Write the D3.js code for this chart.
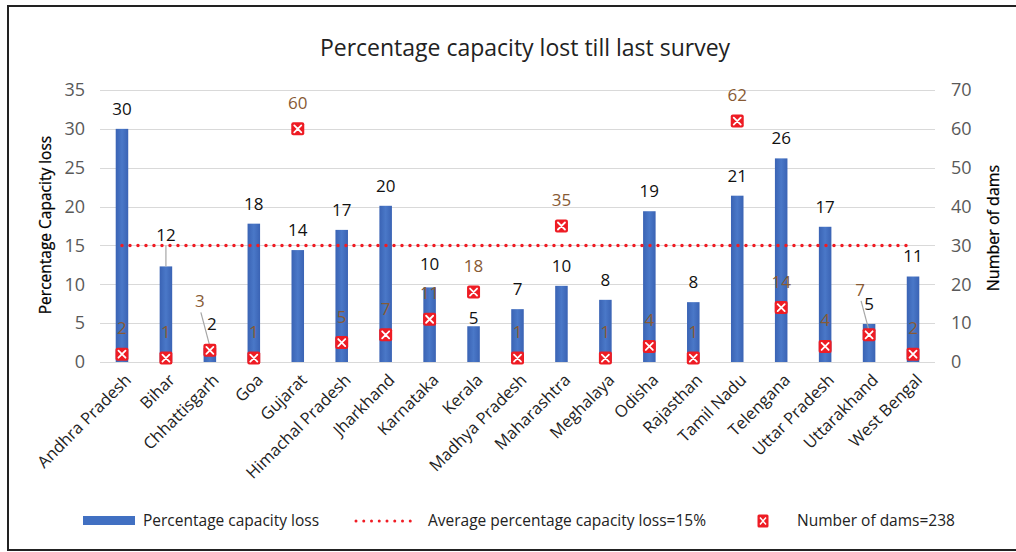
<!DOCTYPE html>
<html>
<head>
<meta charset="utf-8">
<title>Percentage capacity lost till last survey</title>
<script src="https://d3js.org/d3.v7.min.js"></script>
<style>
    body { margin: 0; background: #fff; }
    svg { display: block; font-family: "Open Sans", Lato, sans-serif; }
</style>
</head>
<body>
<svg width="1016" height="552"></svg>
<script>
    // values
    var states = ["Andhra Pradesh", "Bihar", "Chhattisgarh", "Goa", "Gujarat", "Himachal Pradesh",
        "Jharkhand", "Karnataka", "Kerala", "Madhya Pradesh", "Maharashtra", "Meghalaya", "Odisha",
        "Rajasthan", "Tamil Nadu", "Telengana", "Uttar Pradesh", "Uttarakhand", "West Bengal"];
    var capacityLoss = [30.0, 12.3, 1.8, 17.8, 14.4, 17.0, 20.1, 9.6, 4.6, 6.8, 9.8, 8.0, 19.4,
        7.7, 21.4, 26.2, 17.4, 4.9, 11.0];
    var dams = [2, 1, 3, 1, 60, 5, 7, 11, 18, 1, 35, 1, 4, 1, 62, 14, 4, 7, 2];
    var averageLoss = 15;
    var leftTicks = [0, 5, 10, 15, 20, 25, 30, 35];
    var rightTicks = [0, 10, 20, 30, 40, 50, 60, 70];

    var svg = d3.select("svg");

    var x = d3.scaleBand().domain(states).range([100, 935]).paddingInner(0.715).paddingOuter(0.3575);
    var yL = d3.scaleLinear().domain([0, 35]).range([362, 90]);
    var yR = d3.scaleLinear().domain([0, 70]).range([362, 90]);
    var cx = function (s) { return x(s) + x.bandwidth() / 2; };

    // label nudges where the original had moved labels by hand
    var barLabelShift = { "Bihar": -31, "Chhattisgarh": -24, "Karnataka": -23, "Kerala": -8 };
    var damLabelShift = { "Chhattisgarh": [-10, -49], "Uttarakhand": [-9, -45] };

    // frame
    svg.append("path").attr("d", "M8,551V6H1016").attr("fill", "none").attr("stroke", "#222").attr("stroke-width", 2);
    svg.append("line").attr("x1", 8).attr("x2", 1016).attr("y1", 550).attr("y2", 550).attr("stroke", "#222").attr("stroke-width", 2);

    svg.append("text").attr("x", 525).attr("y", 48).attr("dy", "0.35em").attr("text-anchor", "middle")
        .style("font-size", "23px").attr("fill", "#222").text("Percentage capacity lost till last survey");

    // grid
    svg.append("g").selectAll("line").data(leftTicks).enter().append("line")
        .attr("x1", 100).attr("x2", 935)
        .attr("y1", function (d) { return Math.round(yL(d)) + 0.5; })
        .attr("y2", function (d) { return Math.round(yL(d)) + 0.5; })
        .attr("stroke", "#d9d9d9");

    // axes
    svg.append("g").attr("transform", "translate(90,0)")
        .call(d3.axisLeft(yL).tickValues(leftTicks).tickSize(0).tickPadding(5));
    svg.append("g").attr("transform", "translate(946,0)")
        .call(d3.axisRight(yR).tickValues(rightTicks).tickSize(0).tickPadding(5));
    svg.selectAll(".domain").remove();
    svg.selectAll(".tick text").style("font-size", "18px").style("font-family", "Open Sans").attr("fill", "#595959");

    svg.append("text").attr("transform", "translate(46,225) rotate(-90)").attr("text-anchor", "middle")
        .attr("dy", "0.35em").style("font-size", "15.5px").attr("fill", "#000").attr("stroke", "#000").attr("stroke-width", 0.25)
        .text("Percentage Capacity loss");
    svg.append("text").attr("transform", "translate(993,228) rotate(-90)").attr("text-anchor", "middle")
        .attr("dy", "0.35em").style("font-size", "16px").attr("fill", "#000").attr("stroke", "#000").attr("stroke-width", 0.25)
        .text("Number of dams");

    // x labels
    svg.append("g").selectAll("text").data(states).enter().append("text")
        .attr("transform", function (d) { return "translate(" + (cx(d) + 6) + ",377) rotate(-45)"; })
        .attr("text-anchor", "end").attr("dy", "0.35em")
        .style("font-size", "16.5px").attr("fill", "#222").text(function (d) { return d; });

    // bars
    var grad = svg.append("defs").append("linearGradient").attr("id", "barg").attr("x1", 0).attr("x2", 1);
    grad.append("stop").attr("offset", 0).attr("stop-color", "#3a63b4");
    grad.append("stop").attr("offset", 0.5).attr("stop-color", "#4a78c8");
    grad.append("stop").attr("offset", 1).attr("stop-color", "#3a63b4");

    svg.append("g").selectAll("rect").data(states).enter().append("rect")
        .attr("x", function (d) { return x(d); })
        .attr("width", x.bandwidth())
        .attr("y", function (d, i) { return yL(capacityLoss[i]); })
        .attr("height", function (d, i) { return yL(0) - yL(capacityLoss[i]); })
        .attr("fill", "url(#barg)");

    // average line
    svg.append("line")
        .attr("x1", cx(states[0])).attr("x2", cx(states[states.length - 1]))
        .attr("y1", yL(averageLoss)).attr("y2", yL(averageLoss))
        .attr("stroke", "#f01c24").attr("stroke-width", 3.5)
        .attr("stroke-linecap", "round").attr("stroke-dasharray", "0 8");

    // leader lines
    var leaders = svg.append("g").attr("stroke", "#a6a6a6").attr("stroke-width", 1.2);
    var bi = states.indexOf("Bihar");
    leaders.append("line").attr("x1", cx("Bihar")).attr("x2", cx("Bihar"))
        .attr("y1", yL(capacityLoss[bi]) + barLabelShift["Bihar"] + 10).attr("y2", yL(capacityLoss[bi]));
    ["Chhattisgarh", "Uttarakhand"].forEach(function (s) {
        var i = states.indexOf(s), sh = damLabelShift[s];
        leaders.append("line")
            .attr("x1", cx(s) + sh[0] + 1).attr("y1", yR(dams[i]) + sh[1] + 11)
            .attr("x2", cx(s)).attr("y2", yR(dams[i]) - 4);
    });

    // dam markers
    var mk = svg.append("g").selectAll("g").data(states).enter().append("g")
        .attr("transform", function (d, i) { return "translate(" + cx(d) + "," + yR(dams[i]) + ")"; });
    mk.append("rect").attr("x", -6.5).attr("y", -6.5).attr("width", 13).attr("height", 13).attr("rx", 2)
        .attr("fill", "#ee1c24");
    mk.append("path").attr("d", "M-3.5,-3.5L3.5,3.5M3.5,-3.5L-3.5,3.5")
        .attr("stroke", "#fff").attr("stroke-width", 1.8).attr("stroke-linecap", "round");

    // bar labels
    svg.append("g").selectAll("text").data(states).enter().append("text")
        .attr("x", function (d) { return cx(d) + (d === "Chhattisgarh" ? 2 : 0); })
        .attr("y", function (d, i) { return yL(capacityLoss[i]) + (barLabelShift[d] || -20); })
        .attr("dy", "0.35em").attr("text-anchor", "middle")
        .style("font-size", "17px").attr("fill", "#111")
        .text(function (d, i) { return Math.round(capacityLoss[i]); });

    // dam labels
    svg.append("g").selectAll("text").data(states).enter().append("text")
        .attr("x", function (d) { return cx(d) + (damLabelShift[d] ? damLabelShift[d][0] : 0); })
        .attr("y", function (d, i) { return yR(dams[i]) + (damLabelShift[d] ? damLabelShift[d][1] : -26); })
        .attr("dy", "0.35em").attr("text-anchor", "middle")
        .style("font-size", "17px").attr("fill", "#875a34")
        .text(function (d, i) { return dams[i]; });

    // legend
    var lg = svg.append("g").style("font-size", "15.5px").attr("fill", "#222");
    lg.append("rect").attr("x", 83).attr("y", 516).attr("width", 52).attr("height", 9).attr("fill", "#4170c2");
    lg.append("text").attr("x", 143).attr("y", 521).attr("dy", "0.35em").text("Percentage capacity loss");
    lg.append("line").attr("x1", 356).attr("x2", 418).attr("y1", 521).attr("y2", 521)
        .attr("stroke", "#f01c24").attr("stroke-width", 3).attr("stroke-linecap", "round").attr("stroke-dasharray", "0 7.75");
    lg.append("text").attr("x", 428).attr("y", 521).attr("dy", "0.35em").text("Average percentage capacity loss=15%");
    var lm = lg.append("g").attr("transform", "translate(763,521)");
    lm.append("rect").attr("x", -5.5).attr("y", -6.5).attr("width", 11).attr("height", 13).attr("rx", 1.5).attr("fill", "#ee1c24");
    lm.append("path").attr("d", "M-3,-3.5L3,3.5M3,-3.5L-3,3.5").attr("stroke", "#fff").attr("stroke-width", 1.5);
    lg.append("text").attr("x", 797).attr("y", 521).attr("dy", "0.35em").text("Number of dams=238");
</script>
</body>
</html>
